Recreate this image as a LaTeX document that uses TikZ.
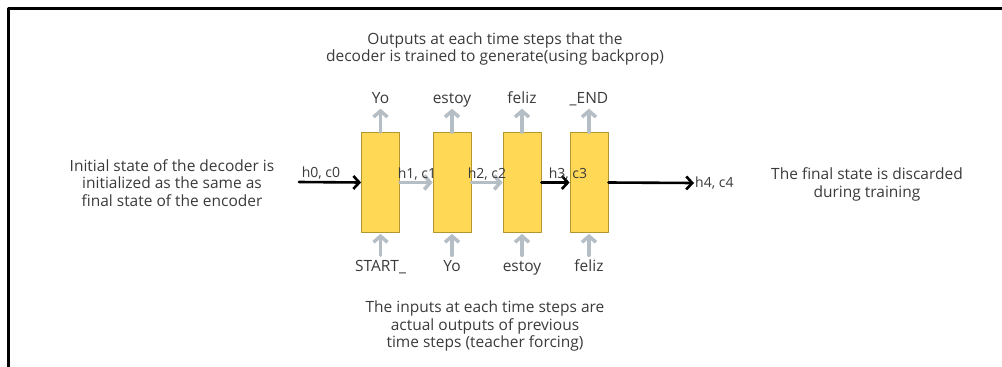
\documentclass[tikz,border=0pt]{standalone}
\usepackage{fontspec}
\setmainfont{Open Sans}
\usetikzlibrary{arrows.meta,positioning}
\definecolor{cellyellow}{HTML}{FFD955}
\definecolor{celledge}{HTML}{B3962E}
\definecolor{flowgray}{HTML}{B5BDC5}
\definecolor{txtgray}{HTML}{3A3A3A}
\begin{document}
\begin{tikzpicture}[x=1pt, y=-1pt, line join=round, line cap=round, text=txtgray,
	font=\fontsize{15.5}{17.8}\selectfont,
	cell/.style={draw=celledge, fill=cellyellow, line width=0.8pt, minimum width=38pt, minimum height=100pt, inner sep=0pt},
	word/.style={inner sep=1pt, text height=11.5pt, text depth=3.5pt},
	statelbl/.style={inner sep=1pt, font=\fontsize{14}{16}\selectfont},
	note/.style={align=center, inner sep=0pt},
	flow/.style={flowgray, line width=3.5pt, -{Straight Barb[length=6pt, width=14pt]}},
	pass/.style={black, line width=2.6pt, -{Straight Barb[length=6pt, width=13pt]}}]

	\useasboundingbox (0,0) rectangle (1002,367);
	% cadre de la capture
	\draw[line width=3pt, line cap=butt] (1002,8.5) -- (8.5,8.5) -- (8.5,367);

	% les cellules du decodeur, avec sorties et entrees
	\foreach \i/\x/\o/\n in {1/380.5/Yo/START\_, 2/452/estoy/Yo, 3/522/feliz/estoy, 4/589/\_END/feliz} {
		\node[cell] (cell\i) at (\x,182.5) {};
		\node[word] (out\i) at (\x,99) {\o};
		\node[word] (in\i) at (\x,267) {\n};
		\draw[flow] (cell\i.north) -- ([yshift=-1pt]out\i.south);
		\draw[flow] ([yshift=3pt]in\i.north) -- ([yshift=-1pt]cell\i.south);
	}

	% etats caches
	\coordinate (enc) at (299,182);
	\node[statelbl, anchor=west] (st4) at (694,183) {h4, c4};
	\draw[pass] (enc) -- (cell1.west);
	\draw[flow] (cell1.east) -- (cell2.west);
	\draw[flow] (cell2.east) -- (cell3.west);
	\draw[pass] (cell3.east) -- (cell4.west);
	\draw[pass] (cell4.east) -- (st4.west);
	\node[statelbl] (st0) at (321,173) {h0, c0};
	\node[statelbl] (st1) at (417,174) {h1, c1};
	\node[statelbl] (st2) at (487,174) {h2, c2};
	\node[statelbl] (st3) at (568,174) {h3, c3};

	% les notes
	\node[note] (topnote) at (495,49) {Outputs at each time steps that the\\decoder is trained to generate(using backprop)};
	\node[note] (leftnote) at (172,183) {Initial state of the decoder is\\initialized as the same as\\final state of the encoder};
	\node[note] (rightnote) at (867,184.5) {The final state is discarded\\during training};
	\node[note] (botnote) at (485,326) {The inputs at each time steps are\\actual outputs of previous\\time steps (teacher forcing)};

\end{tikzpicture}
\end{document}
